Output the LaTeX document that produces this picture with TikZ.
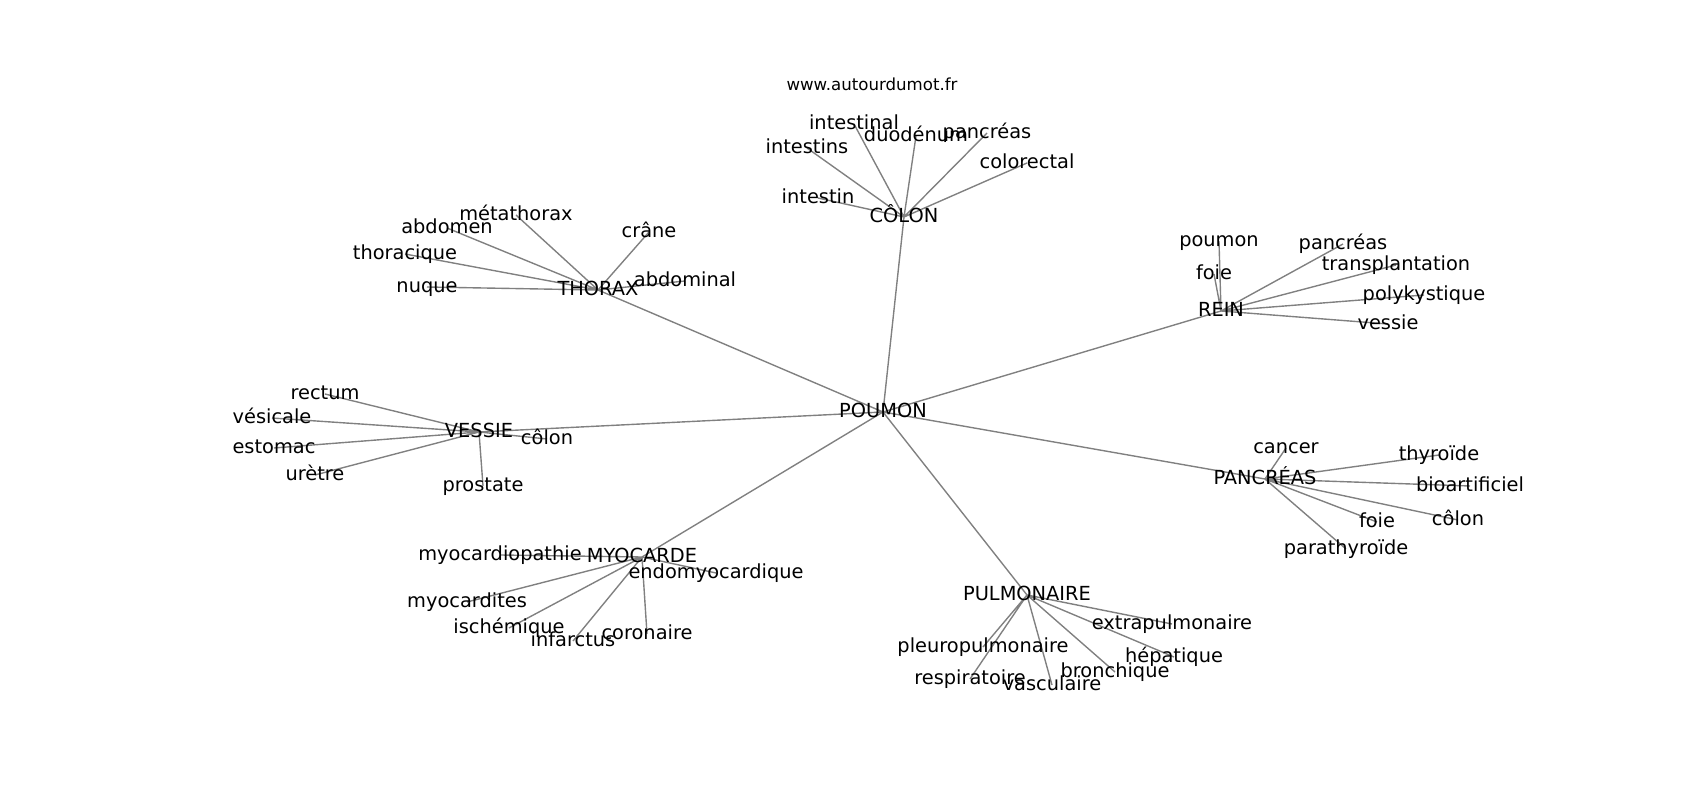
\documentclass[tikz,border=0pt]{standalone}
\usepackage{fontspec}
\setmainfont{DejaVu Sans}
\usetikzlibrary{backgrounds}

\begin{document}
\begin{tikzpicture}[x=0.01in,y=-0.01in,
        mot/.style={inner sep=0pt,text height=0.92em,text depth=0.08em,font=\fontsize{14}{16}\selectfont},
        lien/.style={gray,line width=1bp}]
        \useasboundingbox (0,0) rectangle (1700,800);
        \node[font=\fontsize{12}{14}\selectfont] (site) at (872,84) {www.autourdumot.fr};

        % centre
        \node[mot] (poumon) at (883,412) {POUMON};

        % colon
        \node[mot] (colon) at (904,217) {CÔLON};
        \node[mot] (intestinal) at (854,124) {intestinal};
        \node[mot] (duodenum) at (916,136) {duodénum};
        \node[mot] (pancreasC) at (987,133) {pancréas};
        \node[mot] (intestins) at (807,148) {intestins};
        \node[mot] (colorectal) at (1027,163) {colorectal};
        \node[mot] (intestin) at (818,198) {intestin};

        % thorax
        \node[mot] (thorax) at (598,290) {THORAX};
        \node[mot] (metathorax) at (516,215) {métathorax};
        \node[mot] (abdomen) at (447,228) {abdomen};
        \node[mot] (crane) at (649,232) {crâne};
        \node[mot] (thoracique) at (405,254) {thoracique};
        \node[mot] (nuque) at (427,287) {nuque};
        \node[mot] (abdominal) at (685,281) {abdominal};

        % rein
        \node[mot] (rein) at (1221,311) {REIN};
        \node[mot] (poumonR) at (1219,241) {poumon};
        \node[mot] (pancreasR) at (1343,244) {pancréas};
        \node[mot] (transplantation) at (1396,265) {transplantation};
        \node[mot] (foieR) at (1214,274) {foie};
        \node[mot] (polykystique) at (1424,295) {polykystique};
        \node[mot] (vessieR) at (1388,324) {vessie};

        % vessie
        \node[mot] (vessie) at (479,432) {VESSIE};
        \node[mot] (rectum) at (325,394) {rectum};
        \node[mot] (vesicale) at (272,418) {vésicale};
        \node[mot] (colonV) at (547,439) {côlon};
        \node[mot] (estomac) at (274,448) {estomac};
        \node[mot] (uretre) at (315,475) {urètre};
        \node[mot] (prostate) at (483,486) {prostate};

        % pancreas
        \node[mot] (pancreas) at (1265,479) {PANCRÉAS};
        \node[mot] (cancer) at (1286,448) {cancer};
        \node[mot] (thyroide) at (1439,455) {thyroïde};
        \node[mot] (bioartificiel) at (1470,486) {bioartificiel};
        \node[mot] (foieP) at (1377,522) {foie};
        \node[mot] (colonP) at (1458,520) {côlon};
        \node[mot] (parathyroide) at (1346,549) {parathyroïde};

        % myocarde
        \node[mot] (myocarde) at (642,557) {MYOCARDE};
        \node[mot] (myocardiopathie) at (500,555) {myocardiopathie};
        \node[mot] (endomyocardique) at (716,573) {endomyocardique};
        \node[mot] (myocardites) at (467,602) {myocardites};
        \node[mot] (ischemique) at (509,628) {ischémique};
        \node[mot] (infarctus) at (573,641) {infarctus};
        \node[mot] (coronaire) at (647,634) {coronaire};

        % pulmonaire
        \node[mot] (pulmonaire) at (1027,595) {PULMONAIRE};
        \node[mot] (extrapulmonaire) at (1172,624) {extrapulmonaire};
        \node[mot] (pleuropulmonaire) at (983,647) {pleuropulmonaire};
        \node[mot] (hepatique) at (1174,657) {hépatique};
        \node[mot] (respiratoire) at (970,679) {respiratoire};
        \node[mot] (bronchique) at (1115,672) {bronchique};
        \node[mot] (vasculaire) at (1052,685) {vasculaire};

        \begin{pgfonlayer}{background}
        \draw[lien] (poumon.center) -- (colon.center) (poumon.center) -- (thorax.center)
            (poumon.center) -- (rein.center) (poumon.center) -- (vessie.center)
            (poumon.center) -- (pancreas.center) (poumon.center) -- (myocarde.center)
            (poumon.center) -- (pulmonaire.center);
        \draw[lien] (colon.center) -- (intestinal.center) (colon.center) -- (duodenum.center)
            (colon.center) -- (pancreasC.center) (colon.center) -- (intestins.center)
            (colon.center) -- (colorectal.center) (colon.center) -- (intestin.center);
        \draw[lien] (thorax.center) -- (metathorax.center) (thorax.center) -- (abdomen.center)
            (thorax.center) -- (crane.center) (thorax.center) -- (thoracique.center)
            (thorax.center) -- (nuque.center) (thorax.center) -- (abdominal.center);
        \draw[lien] (rein.center) -- (poumonR.center) (rein.center) -- (pancreasR.center)
            (rein.center) -- (transplantation.center) (rein.center) -- (foieR.center)
            (rein.center) -- (polykystique.center) (rein.center) -- (vessieR.center);
        \draw[lien] (vessie.center) -- (rectum.center) (vessie.center) -- (vesicale.center)
            (vessie.center) -- (colonV.center) (vessie.center) -- (estomac.center)
            (vessie.center) -- (uretre.center) (vessie.center) -- (prostate.center);
        \draw[lien] (pancreas.center) -- (cancer.center) (pancreas.center) -- (thyroide.center)
            (pancreas.center) -- (bioartificiel.center) (pancreas.center) -- (foieP.center)
            (pancreas.center) -- (colonP.center) (pancreas.center) -- (parathyroide.center);
        \draw[lien] (myocarde.center) -- (myocardiopathie.center) (myocarde.center) -- (endomyocardique.center)
            (myocarde.center) -- (myocardites.center) (myocarde.center) -- (ischemique.center)
            (myocarde.center) -- (infarctus.center) (myocarde.center) -- (coronaire.center);
        \draw[lien] (pulmonaire.center) -- (extrapulmonaire.center) (pulmonaire.center) -- (pleuropulmonaire.center)
            (pulmonaire.center) -- (hepatique.center) (pulmonaire.center) -- (respiratoire.center)
            (pulmonaire.center) -- (bronchique.center) (pulmonaire.center) -- (vasculaire.center);
        \end{pgfonlayer}
\end{tikzpicture}
\end{document}
